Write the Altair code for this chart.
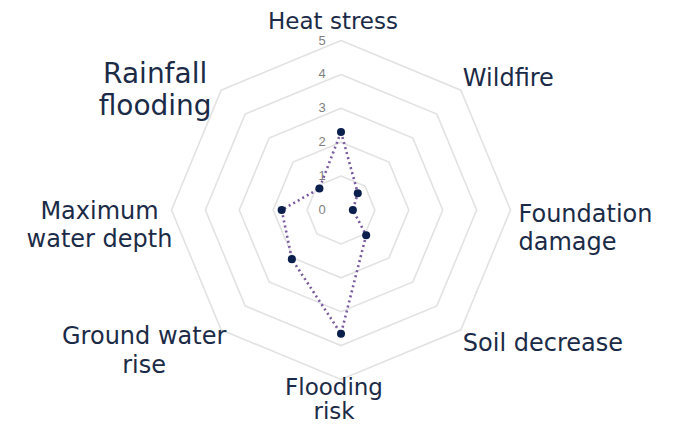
import altair as alt
import pandas as pd
import numpy as np

# ---- data ----
categories = ["Heat stress", "Wildfire", "Foundation damage", "Soil decrease",
              "Flooding risk", "Ground water rise", "Maximum water depth", "Rainfall flooding"]
scores = [2.3, 0.7, 0.35, 1.05, 3.65, 2.05, 1.75, 0.9]
ring_levels = [1, 2, 3, 4, 5]
tick_values = [0, 1, 2, 3, 4, 5]
tick_labels = ["0", "1", "2", "3", "4", "5"]

# ---- layout / style ----
W, H = 664, 417
UNIT = 33.9          # px per score unit
CX, CY = 333, 202    # centre of the radar inside the plot area
R_MAX = 5

# label placement: (align, dx, dy, fontSize, lineHeight)
label_style = {
    "Heat stress": ("center", -8, -18.5, 23, 28),
    "Wildfire": ("left", 2, -11, 24, 28),
    "Foundation damage": ("left", 8, 5, 24, 28),
    "Soil decrease": ("left", 2, 14, 24, 28),
    "Flooding risk": ("center", -7, 8, 23, 24),
    "Ground water rise": ("center", -77, 7, 24, 29),
    "Maximum water depth": ("center", -72, 2, 24, 28),
    "Rainfall flooding": ("center", -66, -15, 28, 32),
}
label_text = {
    "Heat stress": "Heat stress",
    "Wildfire": "Wildfire",
    "Foundation damage": "Foundation\ndamage",
    "Soil decrease": "Soil decrease",
    "Flooding risk": "Flooding\nrisk",
    "Ground water rise": "Ground water\nrise",
    "Maximum water depth": "Maximum\nwater depth",
    "Rainfall flooding": "Rainfall\nflooding",
}

n = len(categories)
angles = [2 * np.pi * i / n for i in range(n)]

# rings
ring_rows = []
for lv in ring_levels:
    for k in range(n + 1):
        a = angles[k % n]
        ring_rows.append({"level": lv, "k": k, "x": lv * np.sin(a), "y": lv * np.cos(a)})
rings = pd.DataFrame(ring_rows)

# series
ser_rows = []
for k in range(n + 1):
    i = k % n
    ser_rows.append({"cat": categories[i], "k": k, "score": scores[i],
                     "x": scores[i] * np.sin(angles[i]), "y": scores[i] * np.cos(angles[i])})
series = pd.DataFrame(ser_rows)
points = series.iloc[:n]

ticks = pd.DataFrame({"x": [0] * len(tick_values), "y": tick_values, "t": tick_labels})

xs = alt.Scale(domain=[-CX / UNIT, (W - CX) / UNIT], nice=False, zero=False)
ys = alt.Scale(domain=[-(H - CY) / UNIT, CY / UNIT], nice=False, zero=False)
X = lambda: alt.X("x:Q", scale=xs, axis=None)
Y = lambda: alt.Y("y:Q", scale=ys, axis=None)

ring_layer = alt.Chart(rings).mark_line(color="#e2e2e2", strokeWidth=1.6).encode(
    x=X(), y=Y(), detail="level:N", order="k:Q")

tick_layer = alt.Chart(ticks).mark_text(
    color="#7f7f7f", fontSize=13, font="Liberation Sans", dx=-19, baseline="middle", align="center"
).encode(x=X(), y=Y(), text="t:N")

line_layer = alt.Chart(series).mark_line(
    color="#7a5a9e", strokeWidth=2.6, strokeDash=[2, 3.2]
).encode(x=X(), y=Y(), order="k:Q")

pt_layer = alt.Chart(points).mark_circle(color="#0b1f4d", size=65, opacity=1).encode(
    x=X(), y=Y(), tooltip=["cat:N", "score:Q"])

label_layers = []
for i, c in enumerate(categories):
    align, dx, dy, fs, lh = label_style[c]
    df = pd.DataFrame({"x": [R_MAX * np.sin(angles[i])], "y": [R_MAX * np.cos(angles[i])],
                       "t": [label_text[c]]})
    label_layers.append(
        alt.Chart(df).mark_text(
            align=align, baseline="middle", dx=dx, dy=dy, fontSize=fs,
            font="DejaVu Sans", color="#1b2b47", lineBreak="\n", lineHeight=lh
        ).encode(x=X(), y=Y(), text="t:N")
    )

chart = alt.layer(ring_layer, tick_layer, line_layer, pt_layer, *label_layers).properties(
    width=W, height=H, padding=0, autosize=alt.AutoSizeParams(type="none")
).configure(background="white").configure_view(stroke=None)

chart.save("out.html", embed_options={"renderer": "svg", "actions": False})
